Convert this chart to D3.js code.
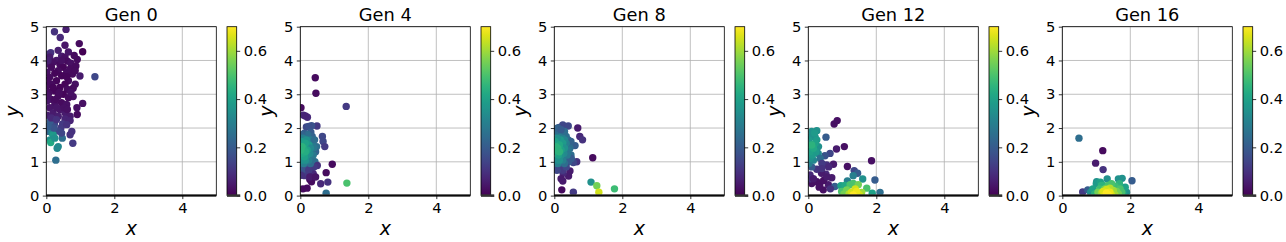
<!DOCTYPE html>
<html><head><meta charset="utf-8">
<script src="https://cdn.jsdelivr.net/npm/d3@7"></script>
<style>html,body{margin:0;padding:0;background:#fff;}svg{display:block;font-family:"DejaVu Sans",sans-serif;}</style>
</head><body><svg id="chart" width="1286" height="242"></svg>
<script>
// ---- data: [x, y, value] ----
const generations = ["Gen 0", "Gen 4", "Gen 8", "Gen 12", "Gen 16"];
const xTicks = [0, 2, 4];
const yTicks = [0, 1, 2, 3, 4, 5];
const cTicks = [0, 0.2, 0.4, 0.6];

const gen0 = [[0.24,4.85,0.10],[0.58,4.92,0.06],[0.41,4.68,0.08],[0.55,4.45,0.04],[0.97,4.50,0.02],[1.07,4.26,0.0],[0.13,4.23,0.10],[0.05,4.18,0.09],[0.10,4.10,0.05],[0.45,4.13,0.05],[0.55,4.10,0.03],[0.91,4.03,0.02],[0.30,4.00,0.04],[0.20,3.95,0.03],[0.62,3.98,0.02],[0.72,3.92,0.03],[0.87,3.84,0.02],[0.40,3.88,0.02],[0.05,3.90,0.04],[0.15,3.80,0.02],[0.50,3.80,0.01],[0.77,3.60,0.02],[0.99,3.54,0.05],[1.43,3.52,0.15],[0.35,3.70,0.02],[0.25,3.62,0.01],[0.60,3.65,0.02],[0.02,3.65,0.03],[0.10,3.50,0.02],[0.45,3.55,0.01],[0.65,3.40,0.02],[0.30,3.40,0.01],[0.85,3.30,0.03],[0.55,3.30,0.01],[0.15,3.30,0.02],[0.02,3.25,0.02],[0.40,3.20,0.01],[0.79,3.18,0.02],[0.62,3.15,0.02],[0.25,3.10,0.01],[0.08,3.05,0.02],[0.50,3.00,0.01],[0.79,2.93,0.03],[0.35,2.95,0.02],[0.65,2.90,0.02],[0.15,2.85,0.02],[0.02,2.80,0.04],[0.45,2.75,0.02],[0.60,2.70,0.03],[1.07,2.73,0.03],[0.25,2.70,0.03],[0.10,2.60,0.04],[0.40,2.55,0.04],[0.55,2.45,0.05],[0.20,2.45,0.05],[0.91,2.40,0.02],[0.70,2.35,0.05],[0.35,2.35,0.06],[0.02,2.38,0.06],[0.55,2.27,0.07],[0.70,2.22,0.07],[0.48,2.12,0.12],[0.24,2.12,0.15],[0.11,2.19,0.20],[0.43,2.00,0.12],[0.35,1.91,0.15],[0.06,1.90,0.22],[0.16,1.86,0.30],[0.75,1.90,0.10],[0.70,1.80,0.10],[0.20,1.80,0.38],[0.47,1.70,0.25],[0.11,1.65,0.35],[0.13,1.57,0.42],[0.78,1.55,0.12],[0.35,1.45,0.33],[0.32,1.40,0.33],[0.28,1.05,0.25],[0.05,4.0,0.06],[0.45,4.0,0.03],[0.70,3.75,0.02],[0.02,3.40,0.02],[0.38,3.05,0.02],[0.72,3.05,0.03],[0.28,2.85,0.02],[0.05,2.95,0.03],[0.52,2.60,0.03],[0.30,2.60,0.04],[0.62,2.55,0.03],[0.15,2.30,0.08],[0.60,2.10,0.10],[0.30,2.25,0.10],[0.22,2.00,0.18],[0.05,2.05,0.20],[0.45,1.85,0.15],[0.25,1.70,0.35],[0.60,3.52,0.01],[0.85,3.70,0.02],[0.20,3.20,0.01],[0.90,2.60,0.03],[0.65,4.25,0.04],[0.35,4.30,0.06],[0.82,4.15,0.02]];

const gen4 = [[0.44,3.49,0.02],[0.46,3.03,0.02],[1.35,2.64,0.12],[0.02,2.60,0.02],[0.09,2.38,0.08],[0.21,2.32,0.08],[0.15,2.36,0.07],[0.49,2.06,0.12],[0.18,2.03,0.15],[0.33,2.07,0.18],[0.25,2.05,0.17],[0.31,1.88,0.20],[0.65,1.75,0.15],[0.67,1.60,0.15],[0.72,1.45,0.12],[0.48,1.45,0.25],[0.43,1.00,0.25],[0.50,0.89,0.10],[0.94,0.93,0.02],[0.76,0.68,0.02],[0.81,0.40,0.10],[0.60,0.35,0.08],[0.33,0.41,0.02],[0.28,0.48,0.02],[1.37,0.37,0.50],[0.76,0.07,0.25],[0.08,0.20,0.02],[0.20,0.22,0.02],[0.13,0.59,0.10],[0.23,0.66,0.12],[0.08,0.76,0.15],[0.33,0.80,0.10],[0.38,0.65,0.08],[0.35,1.05,0.25],[0.22,0.88,0.20],[0.05,0.85,0.20],[0.15,0.80,0.18],[0.40,0.85,0.12],[0.25,0.75,0.12],[0.35,1.75,0.22],[0.12,1.85,0.20],[0.22,1.80,0.25],[0.05,1.80,0.22],[0.45,1.30,0.22],[0.02,0.60,0.10],[0.28,0.55,0.05],[0.45,0.55,0.04],[0.30,0.95,0.25],[0.10,0.95,0.30],[0.25,1.05,0.30],[0.38,1.20,0.28],[0.05,1.05,0.35],[0.15,1.05,0.35],[0.28,1.25,0.33],[0.35,1.55,0.30],[0.30,1.65,0.30],[0.42,1.65,0.25],[0.40,1.42,0.28],[0.08,1.70,0.30],[0.18,1.65,0.35],[0.03,1.60,0.38],[0.25,1.50,0.38],[0.30,1.40,0.33],[0.20,1.20,0.35],[0.12,1.15,0.40],[0.20,1.35,0.40],[0.15,1.55,0.40],[0.05,1.25,0.42],[0.10,1.40,0.42],[0.15,1.30,0.43],[0.05,1.45,0.45],[0.02,1.35,0.45]];

const gen8 = [[0.25,2.09,0.15],[0.15,2.02,0.15],[0.41,2.06,0.15],[0.69,2.00,0.05],[0.75,1.75,0.08],[0.83,1.65,0.10],[0.61,1.48,0.20],[0.41,1.65,0.25],[0.49,1.60,0.22],[0.46,1.40,0.25],[0.49,1.20,0.25],[0.66,1.00,0.10],[0.56,0.98,0.15],[1.13,1.12,0.02],[0.46,0.73,0.05],[0.42,0.58,0.05],[0.26,0.66,0.08],[0.20,0.50,0.05],[0.25,0.43,0.05],[0.22,0.17,0.02],[0.56,0.10,0.12],[1.08,0.40,0.35],[1.25,0.29,0.55],[1.31,0.10,0.65],[1.77,0.20,0.48],[0.35,1.05,0.25],[0.22,0.88,0.20],[0.05,0.85,0.22],[0.15,0.80,0.18],[0.25,0.75,0.12],[0.35,1.75,0.25],[0.12,1.85,0.30],[0.22,1.80,0.30],[0.05,1.90,0.25],[0.10,2.00,0.22],[0.30,1.90,0.25],[0.40,1.35,0.28],[0.42,1.00,0.20],[0.35,0.85,0.15],[0.08,0.75,0.15],[0.20,1.95,0.20],[0.50,1.10,0.20],[0.30,0.95,0.25],[0.10,0.95,0.30],[0.25,1.05,0.30],[0.38,1.20,0.28],[0.05,1.05,0.33],[0.15,1.05,0.35],[0.28,1.25,0.33],[0.35,1.55,0.30],[0.30,1.65,0.32],[0.18,1.65,0.38],[0.08,1.70,0.35],[0.03,1.60,0.40],[0.25,1.55,0.38],[0.30,1.40,0.35],[0.20,1.20,0.35],[0.12,1.20,0.40],[0.20,1.35,0.40],[0.15,1.50,0.42],[0.05,1.30,0.42],[0.10,1.40,0.45],[0.15,1.30,0.45],[0.05,1.45,0.45],[0.02,1.35,0.45]];

const gen12 = [[0.76,2.12,0.03],[0.85,2.22,0.03],[0.25,1.92,0.35],[0.52,1.73,0.20],[0.20,1.73,0.35],[1.06,1.45,0.03],[0.83,1.38,0.05],[0.64,1.25,0.15],[0.49,1.18,0.18],[0.29,1.25,0.33],[0.74,0.93,0.05],[0.54,0.91,0.10],[1.86,1.03,0.03],[1.15,0.86,0.03],[1.35,0.74,0.15],[1.45,0.66,0.20],[1.32,0.59,0.30],[1.60,0.49,0.35],[1.96,0.46,0.20],[1.15,0.43,0.30],[0.69,0.53,0.05],[0.52,0.63,0.08],[0.39,0.66,0.05],[0.25,0.78,0.10],[0.05,0.61,0.08],[0.10,0.36,0.03],[0.25,0.41,0.03],[0.34,0.32,0.03],[0.44,0.17,0.03],[0.32,0.25,0.03],[0.59,0.32,0.05],[0.78,0.27,0.20],[0.96,0.29,0.40],[1.08,0.30,0.42],[1.23,0.32,0.50],[1.32,0.36,0.50],[1.47,0.32,0.55],[1.72,0.22,0.50],[0.98,0.12,0.50],[1.13,0.17,0.55],[1.88,0.07,0.40],[2.11,0.09,0.25],[1.05,0.05,0.55],[1.57,0.09,0.60],[1.20,0.05,0.62],[1.50,0.03,0.65],[1.38,0.20,0.65],[1.27,0.10,0.65],[1.42,0.12,0.68],[1.32,0.02,0.70],[0.35,1.10,0.25],[0.10,0.85,0.20],[0.05,0.50,0.10],[0.40,0.95,0.12],[0.60,0.85,0.08],[0.45,0.45,0.03],[0.55,0.55,0.05],[0.65,0.20,0.10],[0.15,0.50,0.05],[0.40,0.80,0.10],[0.02,0.95,0.30],[0.15,1.05,0.32],[0.05,1.10,0.35],[0.08,1.75,0.35],[0.10,1.90,0.35],[0.30,1.45,0.35],[0.18,1.85,0.38],[0.25,1.65,0.38],[0.22,1.30,0.38],[0.02,1.65,0.38],[0.12,1.20,0.38],[0.05,1.30,0.40],[0.20,1.55,0.40],[0.05,1.45,0.42],[0.15,1.40,0.42],[0.10,1.50,0.45]];

const gen16 = [[0.49,1.70,0.25],[1.19,1.33,0.02],[0.98,0.96,0.05],[1.20,0.77,0.10],[2.05,0.44,0.20],[0.60,0.11,0.12],[0.75,0.17,0.20],[1.65,0.49,0.35],[1.76,0.51,0.35],[1.32,0.49,0.35],[1.01,0.41,0.35],[0.83,0.09,0.35],[1.89,0.10,0.35],[1.00,0.35,0.38],[1.12,0.40,0.40],[0.90,0.20,0.40],[1.80,0.05,0.40],[1.85,0.25,0.40],[1.68,0.35,0.45],[1.20,0.30,0.45],[1.15,0.30,0.45],[0.95,0.05,0.45],[1.10,0.20,0.48],[1.55,0.28,0.48],[1.35,0.30,0.50],[1.45,0.35,0.50],[1.70,0.20,0.50],[1.75,0.10,0.50],[1.25,0.20,0.55],[1.60,0.12,0.55],[1.05,0.10,0.55],[1.65,0.05,0.55],[1.50,0.15,0.60],[1.15,0.08,0.60],[1.55,0.03,0.60],[1.40,0.22,0.62],[1.45,0.02,0.65],[1.30,0.18,0.65],[1.20,0.12,0.66],[1.40,0.10,0.68],[1.25,0.02,0.68],[1.30,0.08,0.70],[1.35,0.03,0.72]];

const genData = [gen0, gen4, gen8, gen12, gen16];
const cMax = 0.7;

// ---- layout ----
const svg = d3.select("#chart");
const axTop = 26.7, axBottom = 195.6, axW = 170, step = 254, left0 = 46.3;
const cbOff = 180.7, cbW = 9.7;
const tickFont = "14.7px", titleFont = "17.8px", labelFont = "19px";
const color = d3.scaleSequential(d3.interpolateViridis).domain([0, cMax]);

const defs = svg.append("defs");
const grad = defs.append("linearGradient").attr("id", "vir").attr("x1", 0).attr("y1", 1).attr("x2", 0).attr("y2", 0);
d3.range(0, 1.0001, 0.05).forEach(t => grad.append("stop").attr("offset", t).attr("stop-color", d3.interpolateViridis(t)));

genData.forEach((data, i) => {
  const L = left0 + step * i;
  const x = d3.scaleLinear().domain([0, 5]).range([L, L + axW]);
  const y = d3.scaleLinear().domain([0, 5]).range([axBottom, axTop]);
  const g = svg.append("g");

  defs.append("clipPath").attr("id", "clip" + i).append("rect")
    .attr("x", L).attr("y", axTop).attr("width", axW).attr("height", axBottom - axTop);

  // grid
  g.append("g").selectAll("line").data(xTicks).join("line")
    .attr("x1", d => x(d)).attr("x2", d => x(d)).attr("y1", axTop).attr("y2", axBottom)
    .attr("stroke", "#b0b0b0").attr("stroke-width", 0.8);
  g.append("g").selectAll("line").data(yTicks).join("line")
    .attr("y1", d => y(d)).attr("y2", d => y(d)).attr("x1", L).attr("x2", L + axW)
    .attr("stroke", "#b0b0b0").attr("stroke-width", 0.8);

  // points
  g.append("g").attr("clip-path", `url(#clip${i})`).selectAll("circle").data(data).join("circle")
    .attr("cx", d => x(d[0])).attr("cy", d => y(d[1])).attr("r", 3.7)
    .attr("fill", d => color(d[2]));

  // thick y=0 line
  g.append("line").attr("x1", x(0)).attr("x2", x(5)).attr("y1", y(0)).attr("y2", y(0))
    .attr("stroke", "#333").attr("stroke-width", 2.5);

  // frame
  g.append("rect").attr("x", L).attr("y", axTop).attr("width", axW).attr("height", axBottom - axTop)
    .attr("fill", "none").attr("stroke", "#000").attr("stroke-width", 0.8);

  // axes
  const ax = g.append("g").attr("transform", `translate(0,${axBottom})`)
    .call(d3.axisBottom(x).tickValues(xTicks).tickSize(3.5).tickPadding(3.5).tickFormat(d3.format("d")));
  const ay = g.append("g").attr("transform", `translate(${L},0)`)
    .call(d3.axisLeft(y).tickValues(yTicks).tickSize(3.5).tickPadding(3.5).tickFormat(d3.format("d")));
  [ax, ay].forEach(a => {
    a.select(".domain").remove();
    a.selectAll(".tick line").attr("stroke", "#000").attr("stroke-width", 0.8);
    a.selectAll(".tick text").attr("font-size", tickFont).attr("font-family", "DejaVu Sans").attr("fill", "#000");
  });

  // title and labels
  g.append("text").attr("x", L + axW / 2).attr("y", 21).attr("text-anchor", "middle")
    .attr("font-size", titleFont).text(generations[i]);
  g.append("text").attr("x", L + axW / 2).attr("y", 235).attr("text-anchor", "middle")
    .attr("font-size", labelFont).attr("font-style", "italic").text("x");
  g.append("text").attr("transform", `translate(${L - 27},${(axTop + axBottom) / 2}) rotate(-90)`)
    .attr("text-anchor", "middle").attr("font-size", labelFont).attr("font-style", "italic").text("y");

  // colorbar
  const cx0 = L + cbOff;
  const cy = d3.scaleLinear().domain([0, cMax]).range([axBottom, axTop]);
  g.append("rect").attr("x", cx0).attr("y", axTop).attr("width", cbW).attr("height", axBottom - axTop)
    .attr("fill", "url(#vir)").attr("stroke", "#000").attr("stroke-width", 0.8);
  const ac = g.append("g").attr("transform", `translate(${cx0 + cbW},0)`)
    .call(d3.axisRight(cy).tickValues(cTicks).tickSize(3.5).tickPadding(3.5).tickFormat(d3.format(".1f")));
  ac.select(".domain").remove();
  ac.selectAll(".tick line").attr("stroke", "#000").attr("stroke-width", 0.8);
  ac.selectAll(".tick text").attr("font-size", tickFont).attr("font-family", "DejaVu Sans").attr("fill", "#000");
  g.append("line").attr("x1", cx0).attr("x2", cx0 + cbW + 3.5).attr("y1", axBottom).attr("y2", axBottom)
    .attr("stroke", "#333").attr("stroke-width", 2.5);
});
</script></body></html>
